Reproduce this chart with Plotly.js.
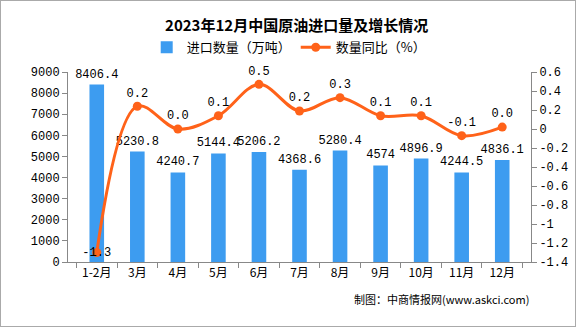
<!DOCTYPE html>
<html><head><meta charset="utf-8">
<script src="https://cdn.plot.ly/plotly-3.0.1.min.js"></script>
<style>html,body{margin:0;padding:0;background:#fff}#c{width:576px;height:327px;box-sizing:border-box;border:1px solid #aaa}</style>
</head><body><div id="c"></div>
<script>
const categories = ['1-2月','3月','4月','5月','6月','7月','8月','9月','10月','11月','12月'];
const imports = [8406.4,5230.8,4240.7,5144.4,5206.2,4368.6,5280.4,4574,4896.9,4244.5,4836.1];
const yoy = [-1.3,0.24,0.0,0.14,0.47,0.19,0.33,0.14,0.14,-0.07,0.02];
const rightTicks = [0.6,0.4,0.2,0,-0.2,-0.4,-0.6,-0.8,-1,-1.2,-1.4];
const rightTickText = ['0.6','0.4','0.2','0','-0.2','-0.4','-0.6','-0.8','-1','-1.2','-1.4'];

const numFont = {family:'"Liberation Mono","DejaVu Sans Mono",monospace', size:12, color:'#000'};
const bars = {
  type:'bar', x:categories, y:imports, name:'进口数量（万吨）',
  marker:{color:'#3D9CF0'}, text:imports.map(v=>String(v)), textposition:'outside',
  constraintext:'none', textfont:numFont, cliponaxis:false, hoverinfo:'none'
};
const line = {
  type:'scatter', mode:'lines+markers+text', x:categories, y:yoy, yaxis:'y2',
  name:'数量同比（%）', line:{color:'#FF6219', width:3, shape:'spline', smoothing:1},
  marker:{color:'#FF6219', size:9},
  text:yoy.map(v=>v.toFixed(1)), textposition:yoy.map((v,i)=>i===0?'middle center':'top center'),
  textfont:numFont, cliponaxis:false, hoverinfo:'none'
};
const layout = {
  width:574, height:325, margin:{l:67, r:44, t:71, b:64},
  paper_bgcolor:'#fff', plot_bgcolor:'#fff',
  title:{text:'<b>2023年12月中国原油进口量及增长情况</b>', x:0.515, xanchor:'center', y:0.925, yanchor:'middle',
    font:{family:'"Noto Sans CJK SC",sans-serif', size:15, color:'#000'}},
  showlegend:true,
  legend:{orientation:'h', x:0.17, xanchor:'left', y:1.13, yanchor:'middle',
    font:{family:'"Noto Sans CJK SC",sans-serif', size:13, color:'#000'}, itemwidth:30, bgcolor:'rgba(0,0,0,0)'},
  bargap:0.64,
  xaxis:{type:'category', showline:true, linecolor:'#888', ticks:'outside', tickcolor:'#888', ticklen:5,
    tickson:'boundaries', showgrid:false, tickfont:{family:'"Noto Sans CJK SC",sans-serif', size:12, color:'#000'}},
  yaxis:{range:[0,9000], dtick:1000, showline:true, linecolor:'#888', ticks:'outside', tickcolor:'#888', ticklen:5,
    showgrid:false, zeroline:false, tickfont:numFont},
  yaxis2:{overlaying:'y', side:'right', range:[-1.4,0.6], tickvals:rightTicks, ticktext:rightTickText,
    showline:true, linecolor:'#888', ticks:'outside', tickcolor:'#888', ticklen:5, showgrid:false, zeroline:false, tickfont:numFont},
  annotations:[{text:'制图：中商情报网(www.askci.com)', xref:'paper', yref:'paper', x:1.0, xanchor:'right', y:-0.195, yanchor:'middle',
    showarrow:false, font:{family:'"Noto Sans CJK SC",sans-serif', size:11, color:'#000'}}]
};
Plotly.newPlot('c',[bars,line],layout,{displayModeBar:false,staticPlot:true});
</script></body></html>
